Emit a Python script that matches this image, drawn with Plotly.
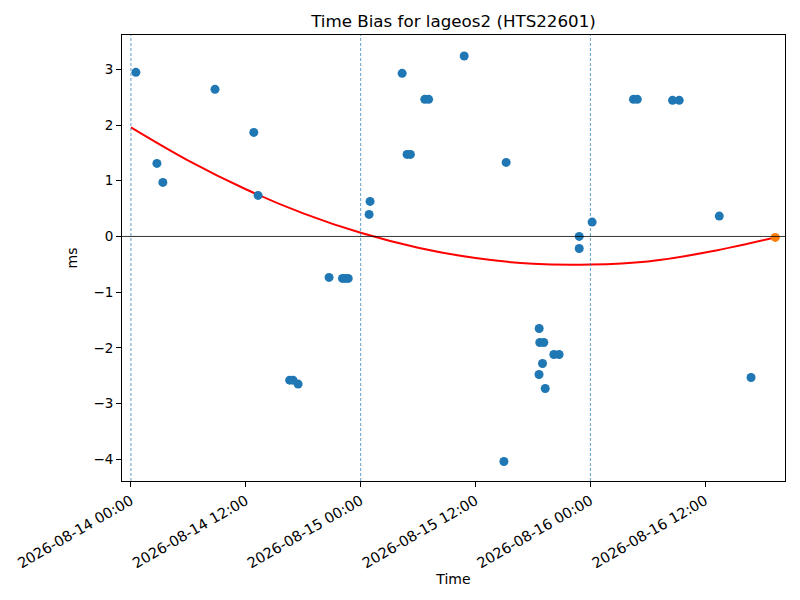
import plotly.graph_objects as go

# observed time bias (ms)
obs_time = [
    "2026-08-14 00:31", "2026-08-14 02:43", "2026-08-14 03:20", "2026-08-14 08:47",
    "2026-08-14 12:50", "2026-08-14 13:17", "2026-08-14 16:35", "2026-08-14 16:56",
    "2026-08-14 17:28", "2026-08-14 20:42", "2026-08-14 22:06", "2026-08-14 22:24",
    "2026-08-14 22:42", "2026-08-15 00:53", "2026-08-15 00:59", "2026-08-15 04:20",
    "2026-08-15 04:51", "2026-08-15 05:12", "2026-08-15 06:42", "2026-08-15 07:06",
    "2026-08-15 10:49", "2026-08-15 14:58", "2026-08-15 15:12", "2026-08-15 18:39",
    "2026-08-15 18:38", "2026-08-15 18:43", "2026-08-15 19:08", "2026-08-15 19:00",
    "2026-08-15 19:17", "2026-08-15 20:11", "2026-08-15 20:44", "2026-08-15 22:50",
    "2026-08-15 22:50", "2026-08-16 00:11", "2026-08-16 04:30", "2026-08-16 04:54",
    "2026-08-16 08:35", "2026-08-16 09:17", "2026-08-16 13:28", "2026-08-16 16:47",
]
obs_bias = [
    2.946, 1.311, 0.970, 2.64,
    1.868, 0.736, -2.58, -2.58,
    -2.65, -0.736, -0.754, -0.754,
    -0.754, 0.395, 0.629, 2.928,
    1.473, 1.473, 2.461, 2.461,
    3.239, -4.04, 1.329, -1.653,
    -2.479, -1.904, -1.904, -2.28,
    -2.73, -2.12, -2.12, 0.0,
    -0.216, 0.257, 2.461, 2.461,
    2.443, 2.443, 0.365, -2.533,
]

# latest point
last_time = ["2026-08-16 19:19"]
last_bias = [-0.018]

# fitted curve
fit_time = [
    "2026-08-14 00:00", "2026-08-14 06:00", "2026-08-14 12:00", "2026-08-14 18:00",
    "2026-08-15 00:00", "2026-08-15 06:00", "2026-08-15 12:00", "2026-08-15 18:00",
    "2026-08-16 00:00", "2026-08-16 06:00", "2026-08-16 12:00", "2026-08-16 19:19",
]
fit_bias = [1.958, 1.361, 0.847, 0.415, 0.065, -0.202, -0.388, -0.491,
            -0.505, -0.449, -0.290, -0.018]

day_marks = ["2026-08-14 00:00", "2026-08-15 00:00", "2026-08-16 00:00"]

fig = go.Figure()

for d in day_marks:
    fig.add_vline(x=d, line_dash="3px,2px", line_color="#1f77b4", line_width=0.7)
fig.add_hline(y=0, line_color="black", line_width=0.8)

fig.add_trace(go.Scatter(
    x=fit_time, y=fit_bias, mode="lines", line_shape="spline",
    line=dict(color="red", width=2), showlegend=False,
))
fig.add_trace(go.Scatter(
    x=obs_time, y=obs_bias, mode="markers",
    marker=dict(color="#1f77b4", size=9), showlegend=False,
))
fig.add_trace(go.Scatter(
    x=last_time, y=last_bias, mode="markers",
    marker=dict(color="#ff7f0e", size=9), showlegend=False,
))

axis_common = dict(
    showline=True, linecolor="black", linewidth=1, mirror=True,
    ticks="outside", ticklen=5, tickcolor="black", showgrid=False,
    zeroline=False, automargin=False,
)

fig.update_layout(
    width=800, height=600,
    paper_bgcolor="white", plot_bgcolor="white",
    font=dict(family="DejaVu Sans", color="black"),
    margin=dict(l=122, r=15, t=35, b=119),
    title=dict(text="Time Bias for lageos2 (HTS22601)", x=0.5, xanchor="center",
               xref="paper", y=1 - 21 / 600, yref="container", yanchor="middle",
               font=dict(size=16.7)),
    xaxis=dict(
        **axis_common,
        type="date",
        range=["2026-08-13 23:04", "2026-08-16 20:20"],
        tick0="2026-08-14 00:00", dtick=43200000,
        tickformat="%Y-%m-%d %H:%M", tickangle=-30,
        tickfont=dict(size=14.5, color="black"),
        title=dict(text="Time", font=dict(size=14), standoff=3),
    ),
    yaxis=dict(
        **axis_common,
        range=[-4.39, 3.616],
        tickvals=[-4, -3, -2, -1, 0, 1, 2, 3],
        tickfont=dict(size=13.5, color="black"),
        title=dict(text="ms", font=dict(size=14), standoff=12),
    ),
)

# drop the page's default body margin so the figure sits at the origin
fig.write_html("out.html", config={"displayModeBar": False},
               post_script="document.body.style.margin='0';")
